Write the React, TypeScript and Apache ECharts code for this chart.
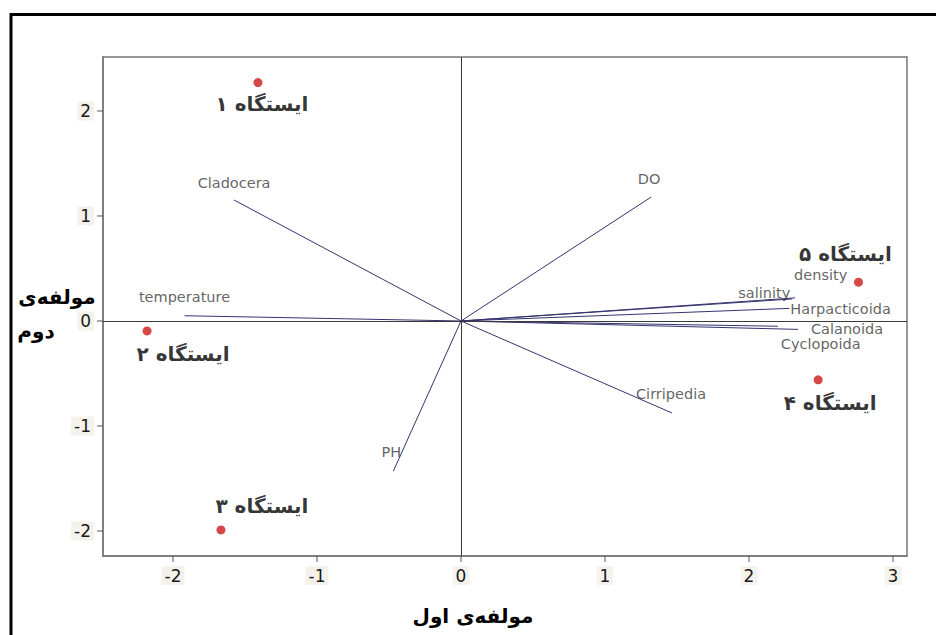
import React, { useEffect, useRef } from 'react';
import * as echarts from 'echarts';

// Station scores (PC1, PC2)
const stations = ['ایستگاه ۱', 'ایستگاه ۲', 'ایستگاه ۳', 'ایستگاه ۴', 'ایستگاه ۵'];
const stationPC1 = [-1.41, -2.18, -1.667, 2.48, 2.76];
const stationPC2 = [2.27, -0.095, -1.99, -0.56, 0.37];

// Variable loadings (vector end points)
const variables = ['Cladocera', 'DO', 'temperature', 'salinity', 'density', 'Harpacticoida', 'Calanoida', 'Cyclopoida', 'Cirripedia', 'PH'];
const loadPC1 = [-1.576, 1.32, -1.92, 2.3, 2.32, 2.28, 2.34, 2.2, 1.465, -0.47];
const loadPC2 = [1.152, 1.18, 0.05, 0.21, 0.22, 0.12, -0.08, -0.05, -0.876, -1.43];

// Axis ranges and tick values
const xMin = -2.486;
const xMax = 3.097;
const yMin = -2.238;
const yMax = 2.514;
const xTicks = [-2, -1, 0, 1, 2, 3];
const yTicks = [-2, -1, 0, 1, 2];

// Label placement (pixel offsets, style only)
const varLabelStyle: [number, number, string][] = [
  [0, -17, 'center'],
  [-2, -18, 'center'],
  [0, -19, 'center'],
  [-2, -6, 'right'],
  [-1, -23, 'left'],
  [1, 1, 'left'],
  [13, 0, 'left'],
  [3, 18, 'left'],
  [-36, -19, 'left'],
  [-2, -19, 'center'],
];
const stationLabelOffset: [number, number][] = [
  [4, 21],
  [36, 23],
  [41, -24],
  [12, 23],
  [-13, -28],
];

const persianFont = '"DejaVu Sans", "Noto Sans", sans-serif';
const TICK_LEN = 6;

export default function App() {
  const ref = useRef<HTMLDivElement>(null);
  useEffect(() => {
    const chart = echarts.init(ref.current!, null, { renderer: 'svg' });
    const vectorSeries = variables.map((name, i) => ({
      type: 'line',
      name,
      data: [
        [0, 0],
        [loadPC1[i], loadPC2[i]],
      ],
      showSymbol: false,
      symbol: 'none',
      lineStyle: { color: '#34346f', width: 1 },
      silent: true,
      z: 3,
    }));
    const axisLineStyle = { show: true, onZero: false, lineStyle: { color: '#777777', width: 1.5 } };
    const option: any = {
      animation: false,
      backgroundColor: '#ffffff',
      grid: {
        left: 103,
        top: 57,
        right: 29,
        bottom: 79,
        show: true,
        borderColor: '#777777',
        borderWidth: 1.5,
        backgroundColor: '#ffffff',
      },
      xAxis: {
        type: 'value',
        min: xMin,
        max: xMax,
        splitLine: { show: false },
        axisLine: axisLineStyle,
        axisTick: { show: false },
        axisLabel: {
          customValues: xTicks,
          margin: 10,
          fontSize: 17,
          color: '#1a1a1a',
          fontFamily: '"DejaVu Sans", sans-serif',
          backgroundColor: '#f4f2ea',
          padding: [1, 3],
        },
      },
      yAxis: {
        type: 'value',
        min: yMin,
        max: yMax,
        splitLine: { show: false },
        axisLine: axisLineStyle,
        axisTick: { show: false },
        axisLabel: {
          customValues: yTicks,
          margin: 9,
          fontSize: 17,
          color: '#1a1a1a',
          fontFamily: '"DejaVu Sans", sans-serif',
          backgroundColor: '#f4f2ea',
          padding: [1, 3],
        },
      },
      series: [
        {
          type: 'line',
          data: [],
          markLine: {
            silent: true,
            symbol: 'none',
            label: { show: false },
            lineStyle: { color: '#3a3a3a', width: 1, type: 'solid' },
            data: [{ xAxis: 0 }, { yAxis: 0 }],
          },
        },
        {
          type: 'custom',
          silent: true,
          clip: false,
          z: 6,
          data: xTicks.map((v) => [v, yMin]),
          renderItem: (params: any, api: any) => {
            const p = api.coord([api.value(0), api.value(1)]);
            return {
              type: 'line',
              shape: { x1: p[0], y1: p[1], x2: p[0], y2: p[1] + TICK_LEN },
              style: { stroke: '#555555', lineWidth: 1 },
            };
          },
        },
        {
          type: 'custom',
          silent: true,
          clip: false,
          z: 6,
          data: yTicks.map((v) => [xMin, v]),
          renderItem: (params: any, api: any) => {
            const p = api.coord([api.value(0), api.value(1)]);
            return {
              type: 'line',
              shape: { x1: p[0] - TICK_LEN, y1: p[1], x2: p[0], y2: p[1] },
              style: { stroke: '#555555', lineWidth: 1 },
            };
          },
        },
        ...vectorSeries,
        {
          type: 'scatter',
          symbolSize: 1,
          itemStyle: { color: 'transparent' },
          silent: true,
          z: 4,
          data: variables.map((name, i) => ({
            value: [loadPC1[i], loadPC2[i]],
            label: {
              show: true,
              formatter: name,
              position: 'inside',
              offset: [varLabelStyle[i][0], varLabelStyle[i][1]],
              align: varLabelStyle[i][2],
              verticalAlign: 'middle',
              fontSize: 14.5,
              color: '#3a3a3a',
              fontFamily: '"DejaVu Sans", sans-serif',
            },
          })),
        },
        {
          type: 'scatter',
          symbolSize: 9,
          itemStyle: { color: '#cc1a1a' },
          z: 5,
          data: stations.map((name, i) => ({
            value: [stationPC1[i], stationPC2[i]],
            label: {
              show: true,
              formatter: name,
              position: 'inside',
              offset: stationLabelOffset[i],
              align: 'center',
              verticalAlign: 'middle',
              fontSize: 20,
              fontWeight: 'bold',
              color: '#000000',
              fontFamily: persianFont,
            },
          })),
        },
      ],
      graphic: [
        {
          type: 'rect',
          shape: { x: 11, y: 14.5, width: 960, height: 660 },
          style: { fill: 'none', stroke: '#000', lineWidth: 3 },
          silent: true,
        },
        {
          type: 'text',
          x: 473,
          y: 616,
          style: {
            text: 'مولفه‌ی اول',
            fill: '#000',
            font: 'bold 20px ' + persianFont,
            align: 'center',
            verticalAlign: 'middle',
          },
        },
        {
          type: 'text',
          x: 57,
          y: 297,
          style: {
            text: 'مولفه‌ی',
            fill: '#000',
            font: 'bold 20px ' + persianFont,
            align: 'center',
            verticalAlign: 'middle',
          },
        },
        {
          type: 'text',
          x: 36,
          y: 331,
          style: {
            text: 'دوم',
            fill: '#000',
            font: 'bold 20px ' + persianFont,
            align: 'center',
            verticalAlign: 'middle',
          },
        },
      ],
    };
    chart.setOption(option);
    return () => chart.dispose();
  }, []);
  return (
    <div
      ref={ref}
      style={{ position: 'fixed', left: 0, top: 0, width: 936, height: 635, background: '#fff' }}
    />
  );
}
